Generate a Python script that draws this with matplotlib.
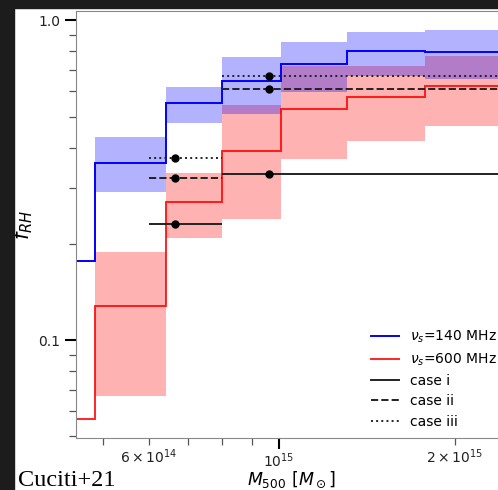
import numpy as np
import matplotlib
matplotlib.use("Agg")
import matplotlib.pyplot as plt
from matplotlib.patches import Rectangle
from matplotlib.ticker import FormatStrFormatter, NullFormatter

# mass bin edges (M_sun)
edges = [4.3e14, 4.85e14, 6.42e14, 8.0e14, 1.01e15, 1.31e15, 1.78e15, 2.6e15]

# fraction of radio halos, 140 MHz
f140 = [0.177, 0.357, 0.550, 0.645, 0.729, 0.802, 0.798]
f140_lo = [0.290, 0.479, 0.508, 0.598, 0.668, 0.657]
f140_hi = [0.431, 0.621, 0.768, 0.858, 0.919, 0.930]

# fraction of radio halos, 600 MHz
f600 = [0.0566, 0.128, 0.271, 0.390, 0.528, 0.576, 0.622]
f600_lo = [0.067, 0.209, 0.240, 0.368, 0.421, 0.466]
f600_hi = [0.188, 0.332, 0.542, 0.722, 0.718, 0.772]

# observed fractions
mass_pts = [6.65e14, 9.62e14]
mass_lo = [6.0e14, 8.0e14]
mass_hi = [8.0e14, 2.6e15]
case_i = [0.230, 0.330]
case_ii = [0.321, 0.612]
case_iii = [0.371, 0.668]

fig = plt.figure(figsize=(4.98, 4.90), dpi=100)
# dark border of the screenshot
fig.patches.append(Rectangle((0, 0), 14/498, 1, transform=fig.transFigure, color='#1c1c1c'))
fig.patches.append(Rectangle((0, 1-8/490), 1, 8/490, transform=fig.transFigure, color='#1c1c1c'))

ax = fig.add_axes([76/498, 52/490, 430/498, 427/490])

# bands: red first so the overlap comes out purple
ax.stairs(f600_hi, edges[1:], baseline=f600_lo, fill=True, color='red', alpha=0.3, lw=0)
ax.stairs(f140_hi, edges[1:], baseline=f140_lo, fill=True, color='blue', alpha=0.3, lw=0)
ax.stairs(f140, edges, baseline=None, color='blue', lw=1.4, label=r'$\nu_s$=140 MHz')
ax.stairs(f600, edges, baseline=None, color='red', lw=1.4, alpha=0.85, label=r'$\nu_s$=600 MHz')

xerr = [np.subtract(mass_pts, mass_lo), np.subtract(mass_hi, mass_pts)]
for vals, ls, lab in [(case_i, '-', 'case i'), (case_ii, '--', 'case ii'), (case_iii, ':', 'case iii')]:
    eb = ax.errorbar(mass_pts, vals, xerr=xerr, fmt='o', color='k', ms=5, elinewidth=1.4, ecolor='#222222')
    eb[2][0].set_linestyle(ls)
    ax.plot([], [], color='#222222', ls=ls, lw=1.4, label=lab)

ax.set_xscale('log')
ax.set_yscale('log')
ax.set_xlim(4.5e14, 2.45e15)
ax.set_ylim(0.0494, 1.07)
ax.yaxis.set_major_formatter(FormatStrFormatter('%.1f'))
ax.yaxis.set_minor_formatter(NullFormatter())

ax.tick_params(which='major', length=8, width=1.5, labelsize=10, labelcolor='#222222')
ax.tick_params(which='minor', length=5, width=0.9, color='#555555', labelsize=10, labelcolor='#222222')
ax.tick_params(axis='x', which='both', pad=1.5)
for s in ax.spines.values():
    s.set_color('#888888')

ax.set_xlabel(r'$M_{500}$ [$M_\odot$]', fontsize=12.5, labelpad=0)
ax.set_ylabel(r'$f_{RH}$', fontsize=15, labelpad=2)

handles, labels = ax.get_legend_handles_labels()
ax.legend(handles, labels, frameon=False, fontsize=10, loc='upper left',
          bbox_to_anchor=(0.658, 0.285), handlelength=2.0, labelspacing=0.45)

fig.text(18/498, 4/490, 'Cuciti+21', family='Liberation Serif', fontsize=17.5, va='baseline')

fig.savefig('out.png', dpi=100)
